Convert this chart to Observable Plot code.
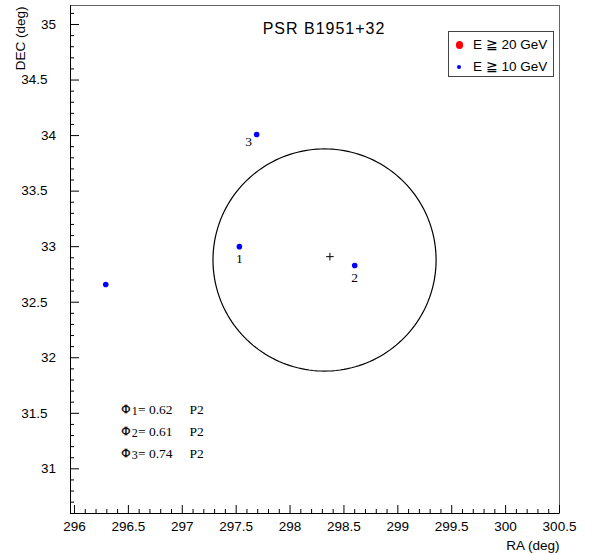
<!DOCTYPE html>
<html><head><meta charset="utf-8">
<script src="https://cdn.jsdelivr.net/npm/d3@7"></script>
<script src="https://cdn.jsdelivr.net/npm/@observablehq/plot@0.6"></script>
<style>
body{margin:0;background:#fff;}
#wrap{position:relative;width:603px;height:553px;overflow:hidden;background:#fff;}
#title{position:absolute;left:324px;top:21px;transform:translateX(-50%);font:16px/16px "Liberation Sans",Arial,sans-serif;letter-spacing:1px;color:#000;white-space:nowrap;}
#legend{position:absolute;left:448px;top:31px;width:106px;height:46px;box-sizing:border-box;border:1px solid #444;background:#fff;}
.lg-row{position:absolute;left:0;height:20px;width:100%;}
.lg-dot{position:absolute;border-radius:50%;}
.lg-txt{position:absolute;left:24px;top:0;line-height:20px;font:13.5px/20px "Liberation Sans",Arial,sans-serif;color:#000;white-space:nowrap;}
</style></head>
<body><div id="wrap"></div>
<script>
// ---- data ----
const title = "PSR B1951+32";
const xLabel = "RA (deg)";
const yLabel = "DEC (deg)";
const eventRA  = [297.53, 298.60, 297.69, 296.29];
const eventDEC = [33.00, 32.83, 34.01, 32.66];
const eventIds = ["1", "2", "3", ""];
const sourceRA = [298.37];
const sourceDEC = [32.91];
const circleCenter = [298.32, 32.88];
const circleRadius = [1.035, 1.0];
const phaseIds = ["1", "2", "3"];
const phaseValues = ["0.62", "0.61", "0.74"];
const phaseUnit = "P2";
const xTicks = [296, 296.5, 297, 297.5, 298, 298.5, 299, 299.5, 300, 300.5];
const yTicksInt = [31, 32, 33, 34, 35];
const yTicksHalf = [31.5, 32.5, 33.5, 34.5];
const legendLabels = ["E \u2267 20 GeV", "E \u2267 10 GeV"];
const legendColors = ["#ff0000", "#0000ff"];
const legendSizes = [3.7, 2.1];

// ---- derived ----
const xDomain = [295.963, 300.5];
const yDomain = [30.598, 35.171];
const yMajor = [...yTicksHalf, ...yTicksInt];
const xMinor = d3.range(2961, 3005).map(d => d / 10).filter(d => !xTicks.includes(d));
const yMinor = d3.range(307, 352).map(d => d / 10).filter(d => !yMajor.includes(d));
const events = eventRA.map((ra, i) => ({ra, dec: eventDEC[i], id: eventIds[i]}));
const source = sourceRA.map((ra, i) => ({ra, dec: sourceDEC[i]}));
const circle = d3.range(0, 361, 2).map(a => ({
  ra: circleCenter[0] + circleRadius[0] * Math.cos(a * Math.PI / 180),
  dec: circleCenter[1] + circleRadius[1] * Math.sin(a * Math.PI / 180)
}));
const plusSymbol = {draw(ctx, size) {
  const r = Math.sqrt(size / Math.PI);
  ctx.moveTo(-r, 0); ctx.lineTo(r, 0); ctx.moveTo(0, -r); ctx.lineTo(0, r);
}};

const sans = '"Liberation Sans", Arial, sans-serif';
const serif = '"Liberation Serif", "Times New Roman", serif';

const phiMarks = [];
phaseIds.forEach((id, i) => {
  const dy = 404 + 22 * i;
  phiMarks.push(
    Plot.text(["\u03A6"], {frameAnchor: "top-left", text: d => d, dx: 51, dy, textAnchor: "start", lineAnchor: "middle", fontFamily: serif, fontSize: 12, fill: "black", stroke: "black", strokeWidth: 0.3}),
    Plot.text([id], {frameAnchor: "top-left", text: d => d, dx: 61.3, dy: dy + 2, textAnchor: "start", lineAnchor: "middle", fontFamily: serif, fontSize: 12, fill: "black"}),
    Plot.text([phaseValues[i]], {frameAnchor: "top-left", text: d => "= " + d, dx: 67.5, dy, textAnchor: "start", lineAnchor: "middle", fontFamily: serif, fontSize: 13.5, fill: "black"}),
    Plot.text([phaseUnit], {frameAnchor: "top-left", text: d => d, dx: 119, dy, textAnchor: "start", lineAnchor: "middle", fontFamily: serif, fontSize: 13.5, fill: "black"})
  );
});

const chart = Plot.plot({
  width: 603,
  height: 553,
  marginLeft: 70,
  marginRight: 44,
  marginTop: 5,
  marginBottom: 40,
  style: {fontFamily: sans, fontSize: "13.5px", background: "white", color: "black"},
  x: {domain: xDomain},
  y: {domain: yDomain},
  marks: [
    Plot.frame({stroke: "#666"}),
    Plot.ruleX([xDomain[0]], {stroke: "black"}),
    Plot.ruleY([yDomain[0]], {stroke: "black"}),
    Plot.axisX(xTicks, {tickSize: 8, dy: -8, fill: "none", label: null}),
    Plot.axisX(xMinor, {tickSize: 4, dy: -4, fill: "none", label: null}),
    Plot.axisX(xTicks, {tickSize: 0, tickPadding: 8, label: null, tickFormat: d => String(d), fontSize: 13.5}),
    Plot.axisY(yMajor, {tickSize: 9, dx: 9, fill: "none", label: null}),
    Plot.axisY(yMinor, {tickSize: 4, dx: 4, fill: "none", label: null}),
    Plot.axisY(yTicksInt, {tickSize: 0, tickPadding: 14.5, label: null, tickFormat: d => String(d), fontSize: 13.5}),
    Plot.axisY(yTicksHalf, {tickSize: 0, tickPadding: 23, label: null, tickFormat: d => String(d), fontSize: 13.5}),
    Plot.line(circle, {x: "ra", y: "dec", stroke: "black", strokeWidth: 1.2}),
    Plot.dot(source, {x: "ra", y: "dec", symbol: plusSymbol, r: 3.8, stroke: "black", fill: "none", strokeWidth: 1}),
    Plot.dot(events, {x: "ra", y: "dec", r: 2.8, fill: "#0000ff"}),
    Plot.text(events.filter(d => d.id === "1" || d.id === "2"), {x: "ra", y: "dec", text: "id", dy: 12.5, fontFamily: serif, fontSize: 13.5, fill: "black"}),
    Plot.text(events.filter(d => d.id === "3"), {x: "ra", y: "dec", text: "id", dx: -8, dy: 7, fontFamily: serif, fontSize: 13.5, fill: "black"}),
    Plot.text([yLabel], {frameAnchor: "top-left", text: d => d, rotate: -90, dx: -50, dy: 1, textAnchor: "end", lineAnchor: "middle", fontFamily: sans, fontSize: 13.5, fill: "black"}),
    Plot.text([xLabel], {frameAnchor: "bottom-right", text: d => d, dy: 32, textAnchor: "end", lineAnchor: "middle", fontFamily: sans, fontSize: 13.5, fill: "black"}),
    ...phiMarks
  ]
});

const wrap = document.getElementById("wrap");
wrap.appendChild(chart);

const t = document.createElement("div");
t.id = "title";
t.textContent = title;
wrap.appendChild(t);

const lg = document.createElement("div");
lg.id = "legend";
legendLabels.forEach((lab, i) => {
  const row = document.createElement("div");
  row.className = "lg-row";
  row.style.top = (3 + 22 * i) + "px";
  const dot = document.createElement("div");
  dot.className = "lg-dot";
  const r = legendSizes[i];
  dot.style.width = dot.style.height = (2 * r) + "px";
  dot.style.left = (10.3 - r) + "px";
  dot.style.top = (10 - r) + "px";
  dot.style.background = legendColors[i];
  const txt = document.createElement("div");
  txt.className = "lg-txt";
  txt.textContent = lab;
  row.appendChild(dot);
  row.appendChild(txt);
  lg.appendChild(row);
});
wrap.appendChild(lg);
</script>
</body></html>
